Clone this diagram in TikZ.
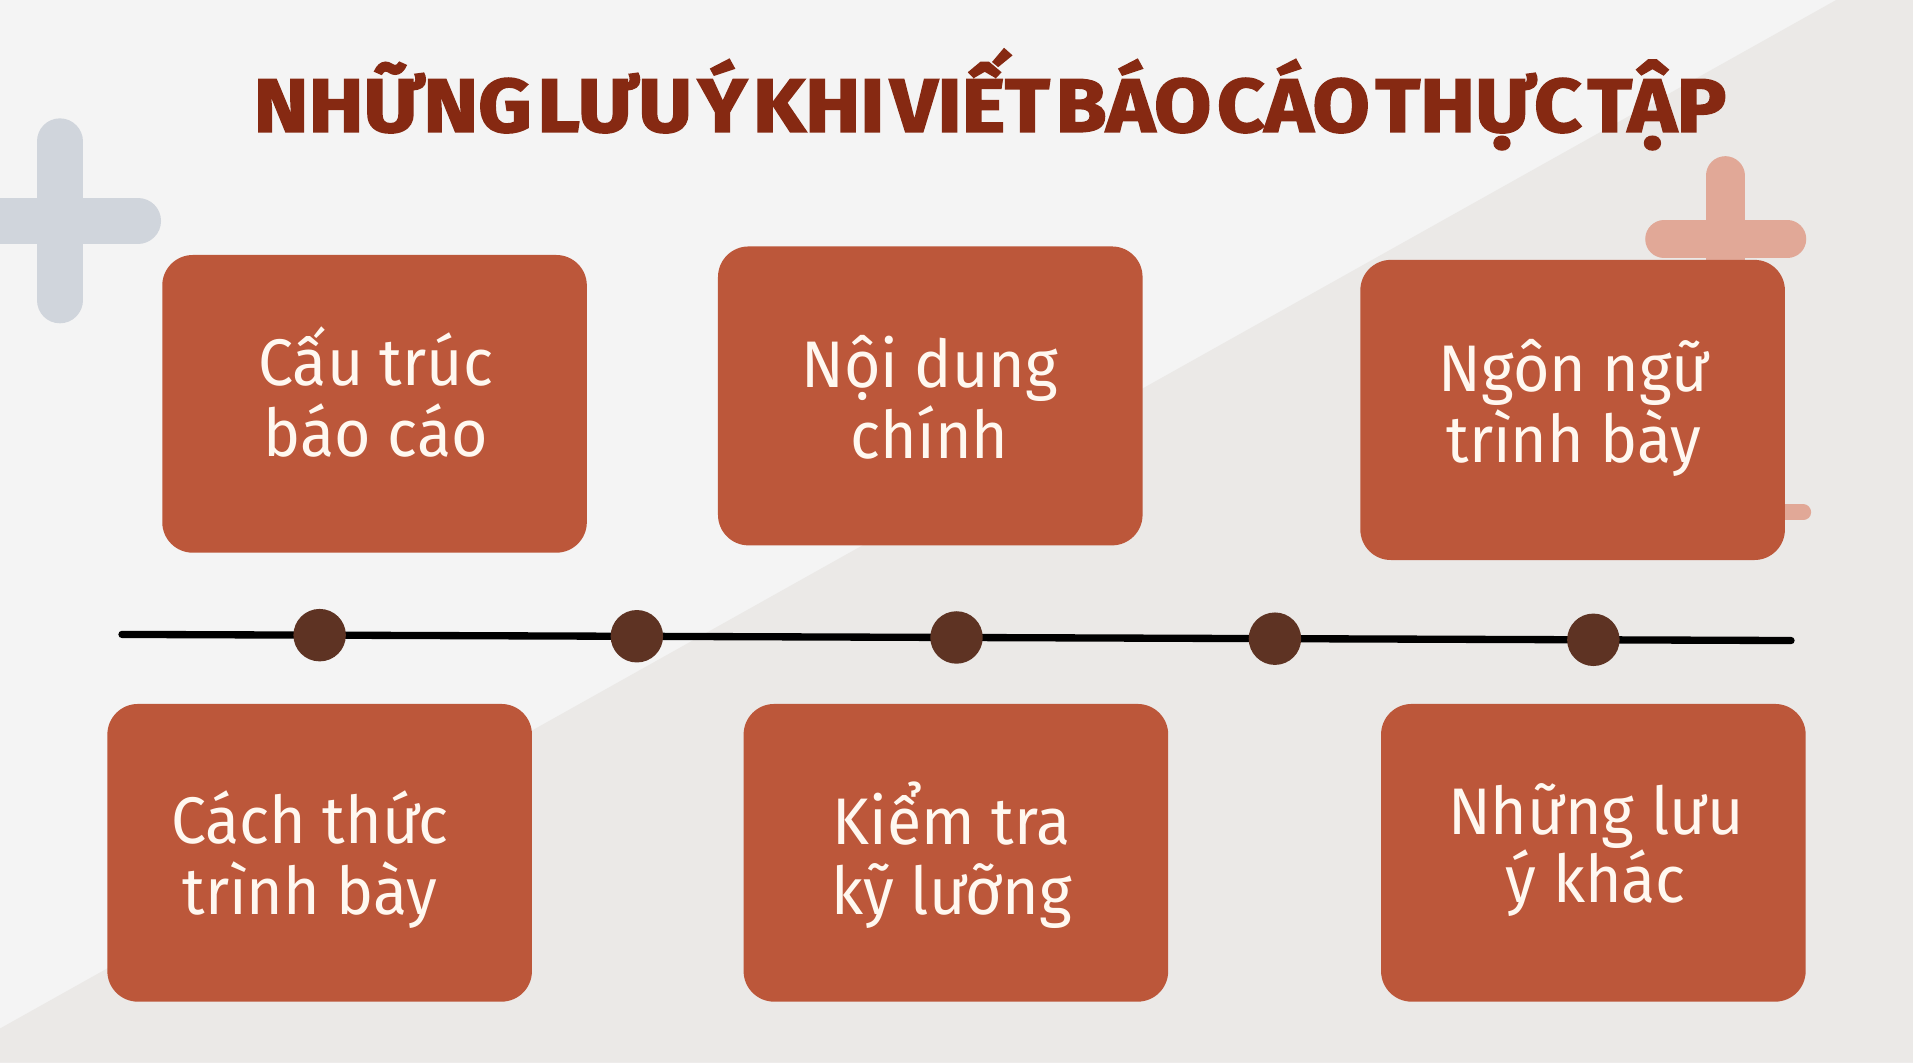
\documentclass[tikz,border=0pt]{standalone}
\usepackage{fontspec}
\usepackage{graphicx}
\setmainfont{Fira Sans}[FakeStretch=0.95]
\newfontfamily\titlefont{Fira Sans}[BoldFeatures={FakeBold=2.2}, WordSpace=0.3]
\definecolor{bgA}{HTML}{F4F4F4}
\definecolor{bgB}{HTML}{EBE9E7}
\definecolor{boxc}{HTML}{BC573A}
\definecolor{txtc}{HTML}{FFF8F0}
\definecolor{titlec}{HTML}{862912}
\definecolor{dotc}{HTML}{5E3323}
\definecolor{plusgray}{HTML}{D0D5DC}
\definecolor{pluspink}{HTML}{E1A897}
\tikzset{
  card/.style={rectangle, rounded corners=25pt, fill=boxc,
    minimum width=348pt, minimum height=245pt, inner sep=0pt},
  cardtext/.style={text=txtc, inner sep=0pt, align=center,
    font=\fontsize{54}{58}\selectfont},
  dotnode/.style={circle, fill=dotc, minimum size=43pt, inner sep=0pt},
  tline/.style={line width=6pt, line cap=round, black},
  plusbar/.style={line width=#1, line cap=round},
}
\begin{document}
\begin{tikzpicture}[x=1pt,y=-1pt]
\useasboundingbox (0,0) rectangle (1568,871);
\fill[bgA] (0,0) rectangle (1568,871);
\fill[bgB] (0,843) -- (1505,0) -- (1568,0) -- (1568,871) -- (0,871) -- cycle;
% gray plus
\draw[plusbar=38pt, plusgray] (49,116) -- (49,246);
\draw[plusbar=38pt, plusgray] (-60,181) -- (113,181);
% pink plus
\draw[plusbar=32pt, pluspink] (1414,144) -- (1414,280);
\draw[plusbar=31pt, pluspink] (1364,196) -- (1465,196);
\draw[plusbar=13pt, pluspink] (1420,420) -- (1478,420);
% title
\node[anchor=base, text=titlec, inner sep=0pt] (title) at (811.5,108)
  {\resizebox{1207pt}{\height}{\titlefont\bfseries\fontsize{62}{62}\selectfont NHỮNG LƯU Ý KHI VIẾT BÁO CÁO THỰC TẬP}};
% timeline
\coordinate (L) at (100,520);
\coordinate (R) at (1468,525);
\draw[tline] (L) -- (R);
\node[dotnode] (d1) at (262,520.6) {};
\node[dotnode] (d2) at (522,521.5) {};
\node[dotnode] (d3) at (784,522.5) {};
\node[dotnode] (d4) at (1045,523.5) {};
\node[dotnode] (d5) at (1306,524.4) {};
% cards
\node[card, minimum height=244pt] (b1) at (307,331) {};
\node[card] (b2) at (762.5,324.5) {};
\node[card, minimum height=246pt] (b3) at (1289,336) {};
\node[card, minimum height=244pt] (b4) at (262,699) {};
\node[card, minimum height=244pt] (b5) at (783.5,699) {};
\node[card, minimum height=244pt] (b6) at (1306,699) {};
% card texts
\node[cardtext] (t1) at (308,321) {Cấu trúc\\báo cáo};
\node[cardtext] (t2) at (762,325.5) {Nội dung\\chính};
\node[cardtext] (t3) at (1290,334.5) {Ngôn ngữ\\trình bày};
\node[cardtext] (t4) at (254,704.5) {Cách thức\\trình bày};
\node[cardtext] (t5) at (780,701) {Kiểm tra\\kỹ lưỡng};
\node[cardtext, font=\fontsize{54}{54}\selectfont] (t6) at (1308,696.5) {Những lưu\\ý khác};
\end{tikzpicture}
\end{document}
